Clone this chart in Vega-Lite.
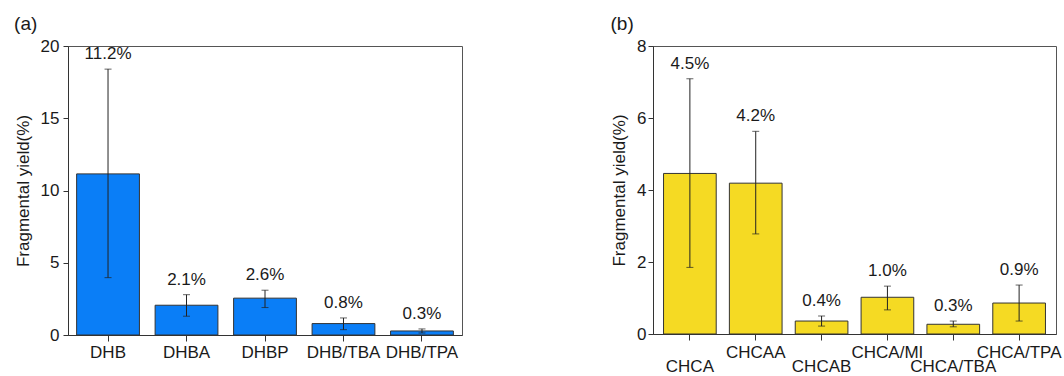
{
  "$schema": "https://vega.github.io/schema/vega-lite/v6.json",
  "padding": {"left": 13, "top": 14, "right": 2, "bottom": 0},
  "config": {
    "font": "Liberation Sans",
    "view": {"stroke": "#555", "strokeWidth": 1},
    "axis": {
      "labelFont": "Liberation Sans", "labelFontSize": 17, "labelColor": "#1a1a1a",
      "titleFont": "Liberation Sans", "titleFontSize": 17, "titleFontWeight": "normal", "titleColor": "#1a1a1a",
      "domainColor": "#333", "tickColor": "#333", "grid": false
    },
    "title": {"font": "Liberation Sans", "fontSize": 19, "fontWeight": "normal", "anchor": "start", "frame": "bounds", "color": "#1a1a1a"},
    "concat": {"spacing": 147}
  },
  "datasets": {
    "a": [
      {"matrix": "DHB", "yield": 11.15, "lo": 3.97, "hi": 18.4, "label": "11.2%"},
      {"matrix": "DHBA", "yield": 2.06, "lo": 1.3, "hi": 2.79, "label": "2.1%"},
      {"matrix": "DHBP", "yield": 2.55, "lo": 1.9, "hi": 3.1, "label": "2.6%"},
      {"matrix": "DHB/TBA", "yield": 0.79, "lo": 0.37, "hi": 1.18, "label": "0.8%"},
      {"matrix": "DHB/TPA", "yield": 0.28, "lo": 0.14, "hi": 0.42, "label": "0.3%"}
    ],
    "b": [
      {"matrix": "CHCA", "yield": 4.46, "lo": 1.85, "hi": 7.09, "label": "4.5%"},
      {"matrix": "CHCAA", "yield": 4.19, "lo": 2.78, "hi": 5.63, "label": "4.2%"},
      {"matrix": "CHCAB", "yield": 0.36, "lo": 0.22, "hi": 0.5, "label": "0.4%"},
      {"matrix": "CHCA/MI", "yield": 1.02, "lo": 0.67, "hi": 1.33, "label": "1.0%"},
      {"matrix": "CHCA/TBA", "yield": 0.27, "lo": 0.2, "hi": 0.36, "label": "0.3%"},
      {"matrix": "CHCA/TPA", "yield": 0.86, "lo": 0.36, "hi": 1.36, "label": "0.9%"}
    ]
  },
  "hconcat": [
    {
      "title": {"text": "(a)", "offset": 3},
      "width": 394, "height": 289,
      "data": {"name": "a"},
      "encoding": {
        "x": {"field": "matrix", "type": "nominal", "sort": null,
              "scale": {"paddingInner": 0.2, "paddingOuter": 0.11},
              "axis": {"title": null, "labelAngle": 0, "tickSize": 6, "labelPadding": 3}}
      },
      "layer": [
        {
          "mark": {"type": "bar", "color": "#0a7ef7", "stroke": "#333", "strokeWidth": 1},
          "encoding": {
            "y": {"field": "yield", "type": "quantitative", "title": "Fragmental yield(%)",
                  "scale": {"domain": [0, 20], "nice": false},
                  "axis": {"values": [0, 2.5, 5, 7.5, 10, 12.5, 15, 17.5, 20],
                           "labelExpr": "datum.value % 5 === 0 ? datum.label : ''",
                           "tickSize": {"condition": {"test": "datum.value % 5 !== 0", "value": 3}, "value": 5},
                           "labelPadding": 4, "titlePadding": 8}}
          }
        },
        {
          "mark": {"type": "errorbar", "ticks": {"size": 7}, "color": "#222"},
          "encoding": {
            "y": {"field": "lo", "type": "quantitative", "title": "Fragmental yield(%)", "scale": {"domain": [0, 20], "nice": false}},
            "y2": {"field": "hi"}
          }
        },
        {
          "mark": {"type": "text", "dy": -15, "fontSize": 17, "baseline": "middle", "color": "#1a1a1a"},
          "encoding": {
            "y": {"field": "hi", "type": "quantitative", "title": "Fragmental yield(%)", "scale": {"domain": [0, 20], "nice": false}},
            "text": {"field": "label"}
          }
        }
      ]
    },
    {
      "title": {"text": "(b)", "offset": 3},
      "width": 403, "height": 288,
      "data": {"name": "b"},
      "encoding": {
        "x": {"field": "matrix", "type": "nominal", "sort": null,
              "scale": {"paddingInner": 0.2, "paddingOuter": 0.16},
              "axis": {"title": null, "labelAngle": 0, "tickSize": 6,
                       "labelPadding": {"condition": {"test": "indexof(['CHCAA','CHCA/MI','CHCA/TPA'], datum.value) >= 0", "value": 4}, "value": 18}}}
      },
      "layer": [
        {
          "mark": {"type": "bar", "color": "#f5da23", "stroke": "#333", "strokeWidth": 1},
          "encoding": {
            "y": {"field": "yield", "type": "quantitative", "title": "Fragmental yield(%)",
                  "scale": {"domain": [0, 8], "nice": false},
                  "axis": {"values": [0, 1, 2, 3, 4, 5, 6, 7, 8],
                           "labelExpr": "datum.value % 2 === 0 ? datum.label : ''",
                           "tickSize": {"condition": {"test": "datum.value % 2 !== 0", "value": 3}, "value": 5},
                           "labelPadding": 2, "titlePadding": 8}}
          }
        },
        {
          "mark": {"type": "errorbar", "ticks": {"size": 7}, "color": "#222"},
          "encoding": {
            "y": {"field": "lo", "type": "quantitative", "title": "Fragmental yield(%)", "scale": {"domain": [0, 8], "nice": false}},
            "y2": {"field": "hi"}
          }
        },
        {
          "mark": {"type": "text", "dy": -15, "fontSize": 17, "baseline": "middle", "color": "#1a1a1a"},
          "encoding": {
            "y": {"field": "hi", "type": "quantitative", "title": "Fragmental yield(%)", "scale": {"domain": [0, 8], "nice": false}},
            "text": {"field": "label"}
          }
        }
      ]
    }
  ]
}
